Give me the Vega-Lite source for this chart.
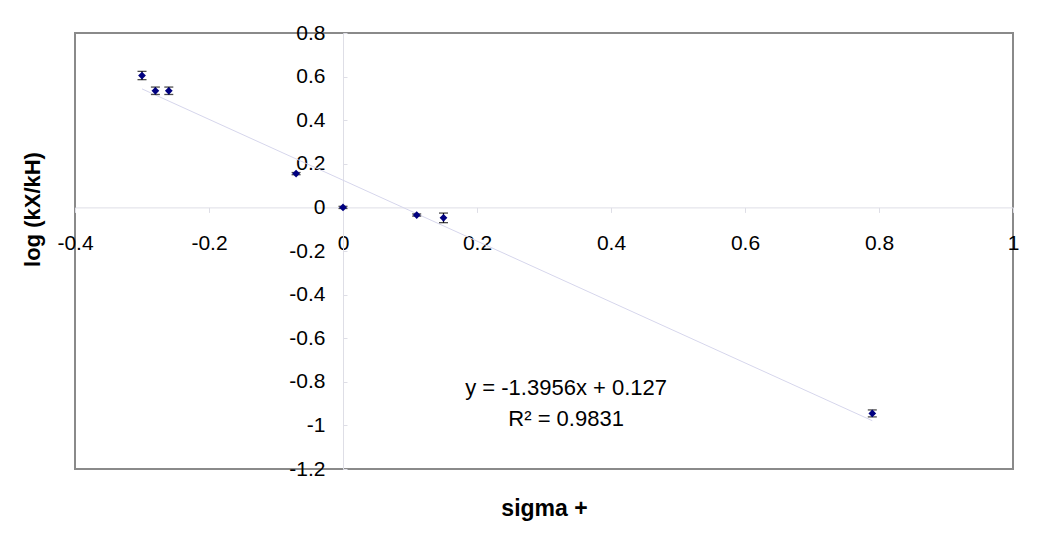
{
  "$schema": "https://vega.github.io/schema/vega-lite/v6.json",
  "width": 938,
  "height": 436,
  "autosize": {"type": "none"},
  "padding": {"left": 75, "top": 33, "right": 37, "bottom": 75},
  "background": "white",
  "config": {
    "view": {"stroke": "#8a8a8a", "strokeWidth": 2},
    "font": "Liberation Sans",
    "axis": {"grid": false}
  },
  "data": {
    "values": [
      {"sigma": -0.30, "logk": 0.605, "lo": 0.586, "hi": 0.624},
      {"sigma": -0.28, "logk": 0.535, "lo": 0.518, "hi": 0.552},
      {"sigma": -0.26, "logk": 0.535, "lo": 0.518, "hi": 0.552},
      {"sigma": -0.07, "logk": 0.155, "lo": 0.150, "hi": 0.160},
      {"sigma": 0.00, "logk": 0.000, "lo": -0.005, "hi": 0.005},
      {"sigma": 0.11, "logk": -0.035, "lo": -0.040, "hi": -0.030},
      {"sigma": 0.15, "logk": -0.048, "lo": -0.070, "hi": -0.026},
      {"sigma": 0.79, "logk": -0.945, "lo": -0.961, "hi": -0.929}
    ]
  },
  "layer": [
    {
      "transform": [{"regression": "logk", "on": "sigma"}],
      "mark": {"type": "line", "color": "#d6d6ec", "strokeWidth": 1},
      "encoding": {
        "x": {
          "field": "sigma", "type": "quantitative",
          "scale": {"domain": [-0.4, 1], "nice": false, "zero": false},
          "axis": {
            "title": "sigma +",
            "titleFont": "Liberation Sans", "titleFontSize": 23, "titleFontWeight": "bold", "titleColor": "black",
            "titleY": 301, "titleBaseline": "middle",
            "offset": -261.6,
            "values": [-0.4, -0.2, 0, 0.2, 0.4, 0.6, 0.8, 1],
            "labelExpr": "'' + round(datum.value * 10) / 10",
            "labelFontSize": 21, "labelColor": "black", "labelPadding": 20,
            "labelFlush": false, "labelOverlap": false,
            "domainColor": "#dedee6", "domainWidth": 1,
            "tickColor": "#dedee6", "tickSize": 5, "tickWidth": 1
          }
        },
        "y": {
          "field": "logk", "type": "quantitative",
          "scale": {"domain": [-1.2, 0.8], "nice": false, "zero": false},
          "axis": {
            "title": "log (kX/kH)",
            "titleFont": "Liberation Sans", "titleFontSize": 22, "titleFontWeight": "bold", "titleColor": "black",
            "titleX": -311, "titleY": 176, "titleBaseline": "middle", "titleAngle": -90, "titleAlign": "center",
            "offset": -268,
            "values": [-1.2, -1, -0.8, -0.6, -0.4, -0.2, 0, 0.2, 0.4, 0.6, 0.8],
            "labelExpr": "'' + round(datum.value * 10) / 10",
            "labelFontSize": 21, "labelColor": "black", "labelPadding": 22,
            "labelFlush": false, "labelOverlap": false, "labelBaseline": "middle",
            "domainColor": "#dedee6", "domainWidth": 1,
            "tickColor": "#dedee6", "tickSize": -4, "tickWidth": 1
          }
        }
      }
    },
    {
      "mark": {"type": "rule", "color": "black", "strokeWidth": 1.2},
      "encoding": {
        "x": {"field": "sigma", "type": "quantitative"},
        "y": {"field": "lo", "type": "quantitative"},
        "y2": {"field": "hi"}
      }
    },
    {
      "mark": {"type": "tick", "orient": "horizontal", "color": "black", "size": 9, "thickness": 1.3},
      "encoding": {
        "x": {"field": "sigma", "type": "quantitative"},
        "y": {"field": "lo", "type": "quantitative"}
      }
    },
    {
      "mark": {"type": "tick", "orient": "horizontal", "color": "black", "size": 9, "thickness": 1.3},
      "encoding": {
        "x": {"field": "sigma", "type": "quantitative"},
        "y": {"field": "hi", "type": "quantitative"}
      }
    },
    {
      "mark": {"type": "point", "shape": "diamond", "filled": true, "color": "#000080", "size": 60, "opacity": 1},
      "encoding": {
        "x": {"field": "sigma", "type": "quantitative"},
        "y": {"field": "logk", "type": "quantitative"}
      }
    },
    {
      "data": {"values": [{"sx": 0.333, "sy": -0.83, "label": "y = -1.3956x + 0.127"}, {"sx": 0.333, "sy": -0.97, "label": "R² = 0.9831"}]},
      "mark": {"type": "text", "fontSize": 22, "fontWeight": 400, "fill": "#000000", "strokeWidth": 0, "align": "center", "baseline": "middle", "font": "Liberation Sans"},
      "encoding": {
        "x": {"field": "sx", "type": "quantitative"},
        "y": {"field": "sy", "type": "quantitative"},
        "text": {"field": "label", "type": "nominal"}
      }
    }
  ]
}
